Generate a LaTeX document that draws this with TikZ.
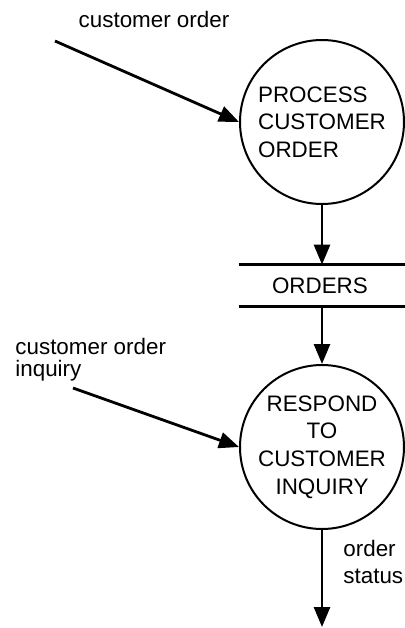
\documentclass[tikz,border=0pt]{standalone}
\usepackage{fontspec}
\setmainfont{Liberation Sans}
\usetikzlibrary{arrows.meta, positioning}

\begin{document}
\begin{tikzpicture}[
    x=0.5pt, y=-0.5pt,
    font=\fontsize{11.2}{13.8}\selectfont,
    proc/.style={draw, circle, line width=1pt, minimum size=82pt,
                 inner sep=0pt, align=center},
    store/.style={minimum height=20.5pt, text width=50pt, inner xsep=16.5pt,
                  inner ysep=0pt, align=left},
    flow/.style={-{Triangle[length=10pt, width=8pt]}, line width=1.4pt},
    lbl/.style={inner sep=0pt, align=left}
]
\useasboundingbox (0,0) rectangle (405,628);

%% ---- processes and data store ----------------------------------
\node[proc, align=left] (pco)    at (322,122)   {PROCESS\\CUSTOMER\\ORDER};
\node[store]            (orders) at (322,285.5) {ORDERS};
\node[proc]             (rci)    at (322,447)   {RESPOND\\TO\\CUSTOMER\\INQUIRY};

\draw[line width=1.4pt] (orders.north west) -- (orders.north east);
\draw[line width=1.4pt] (orders.south west) -- (orders.south east);

%% ---- data flows --------------------------------------------------
\coordinate (co)  at (55,41);
\coordinate (coi) at (73,388);
\coordinate (os)  at (322,627);

\draw[flow] (co)     -- (pco.west);
\draw[flow] (pco)    -- (orders);
\draw[flow] (orders) -- (rci);
\draw[flow] (coi)    -- (rci.west);
\draw[flow] (rci)    -- (os);

%% ---- flow labels -------------------------------------------------
\node[lbl] (colbl) at (154,19) {customer order};
\node[lbl, anchor=west, font=\fontsize{11.2}{11}\selectfont] (coilbl) at (15,360)
    {customer order\\inquiry};
\node[lbl, anchor=west] (oslbl) at (343,562) {order\\status};

\end{tikzpicture}
\end{document}
